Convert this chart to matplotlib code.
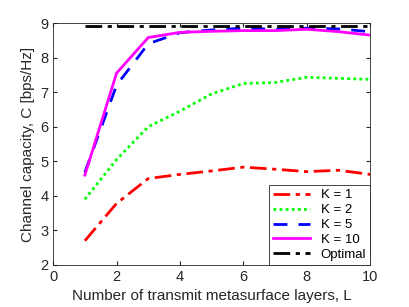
import matplotlib
matplotlib.use('Agg')
import matplotlib.pyplot as plt

plt.rcParams['font.family'] = ['Liberation Sans', 'DejaVu Sans']

L = [1, 2, 3, 4, 5, 6, 7, 8, 9, 10]
cap_k1 = [2.70, 3.78, 4.50, 4.62, 4.72, 4.83, 4.77, 4.70, 4.74, 4.62]
cap_k2 = [3.90, 5.05, 6.00, 6.45, 6.95, 7.25, 7.28, 7.43, 7.40, 7.37]
cap_k5 = [4.68, 7.20, 8.40, 8.72, 8.80, 8.85, 8.82, 8.85, 8.83, 8.75]
cap_k10 = [4.60, 7.55, 8.58, 8.73, 8.76, 8.78, 8.78, 8.82, 8.75, 8.65]
cap_opt = [8.90] * 10

fig = plt.figure(figsize=(4.09, 3.07), dpi=100)
ax = fig.add_axes([0.13, 0.137, 0.775, 0.788])

ax.plot(L, cap_k1, color='#ff0000', lw=2, ls=(0, (6, 2, 1.5, 2)), label='K = 1')
ax.plot(L, cap_k2, color='#00ff00', lw=2, ls=(0, (1, 1.2)), label='K = 2')
ax.plot(L, cap_k5, color='#0000ff', lw=2, ls=(0, (5, 4)), label='K = 5')
ax.plot(L, cap_k10, color='#ff00ff', lw=2, ls='-', label='K = 10')
ax.plot(L, cap_opt, color='black', lw=2, ls=(0, (6, 2, 1.5, 2)), label='Optimal')

ax.set_xlim(0, 10)
ax.set_ylim(2, 9)
ax.set_xticks([0, 2, 4, 6, 8, 10])
ax.set_yticks(range(2, 10))
ax.tick_params(direction='in', top=True, right=True, labelsize=10.5,
               colors='#262626', length=3)
for s in ax.spines.values():
    s.set_color('#262626')
    s.set_linewidth(0.6)
ax.set_xlabel('Number of transmit metasurface layers, L', fontsize=11, color='#262626')
ax.set_ylabel('Channel capacity, C [bps/Hz]', fontsize=11, color='#262626')

leg = ax.legend(loc='lower right', fontsize=9.5, fancybox=False, framealpha=1,
                edgecolor='#262626', borderpad=0.3, labelspacing=0.2,
                handlelength=2.8, borderaxespad=0)
leg.get_frame().set_linewidth(0.6)

fig.savefig('out.png', dpi=100)
